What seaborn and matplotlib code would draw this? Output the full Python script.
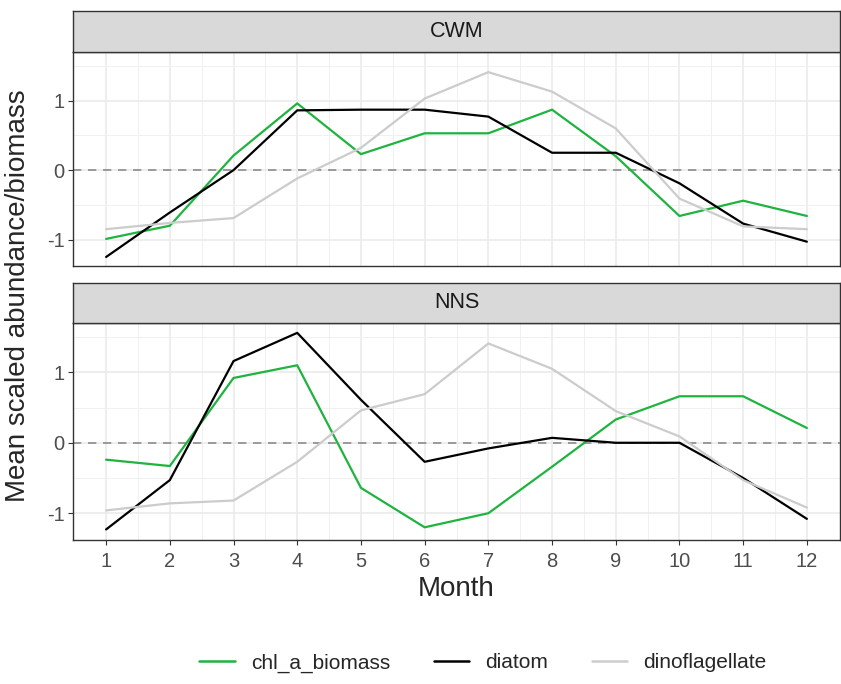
import numpy as np
import pandas as pd
import matplotlib
matplotlib.use("Agg")
import matplotlib.pyplot as plt
from matplotlib.lines import Line2D
import seaborn as sns

months = list(range(1, 13))
groups = ["chl_a_biomass", "diatom", "dinoflagellate"]
panels = ["CWM", "NNS"]

cwm_chl = [-0.99, -0.80, 0.21, 0.96, 0.23, 0.53, 0.53, 0.87, 0.20, -0.66, -0.44, -0.66]
cwm_diatom = [-1.25, -0.61, 0.00, 0.86, 0.87, 0.87, 0.77, 0.25, 0.25, -0.19, -0.77, -1.03]
cwm_dino = [-0.85, -0.76, -0.69, -0.12, 0.32, 1.03, 1.41, 1.13, 0.60, -0.41, -0.81, -0.85]

nns_chl = [-0.24, -0.33, 0.92, 1.10, -0.64, -1.20, -1.00, -0.34, 0.33, 0.66, 0.66, 0.21]
nns_diatom = [-1.23, -0.53, 1.16, 1.56, 0.61, -0.27, -0.08, 0.07, 0.00, 0.00, -0.50, -1.08]
nns_dino = [-0.96, -0.86, -0.82, -0.27, 0.46, 0.69, 1.41, 1.05, 0.45, 0.09, -0.53, -0.92]

series = {
    "CWM": {"chl_a_biomass": cwm_chl, "diatom": cwm_diatom, "dinoflagellate": cwm_dino},
    "NNS": {"chl_a_biomass": nns_chl, "diatom": nns_diatom, "dinoflagellate": nns_dino},
}

rows = []
for p in panels:
    for g in groups:
        for m, v in zip(months, series[p][g]):
            rows.append({"panel": p, "group": g, "Month": m, "value": v})
df = pd.DataFrame(rows)

palette = {"chl_a_biomass": "#1fb33f", "diatom": "#000000", "dinoflagellate": "#cccccc"}

sns.set_style("white")
plt.rcParams["font.family"] = ["Liberation Sans", "DejaVu Sans"]

W, H = 841, 684
fig = plt.figure(figsize=(W / 100, H / 100), dpi=100)

def fr(x0, y0, x1, y1):
    return [x0 / W, 1 - y1 / H, (x1 - x0) / W, (y1 - y0) / H]

panel_px = {"CWM": (73, 52, 840, 266), "NNS": (73, 323, 840, 540)}
strip_px = {"CWM": (73, 11, 840, 52), "NNS": (73, 283, 840, 323)}

ylim = (-1.38, 1.70)
xlim = (0.48, 12.52)
border = "#333333"
tick_fs = 14.5

for i, p in enumerate(panels):
    ax = fig.add_axes(fr(*panel_px[p]))
    ax.set_facecolor("white")
    ax.set_xlim(*xlim)
    ax.set_ylim(*ylim)
    ax.set_xticks(months)
    ax.set_xticks(np.arange(1.5, 12, 1.0), minor=True)
    ax.set_yticks([-1, 0, 1])
    ax.set_yticks([-0.5, 0.5, 1.5], minor=True)
    ax.grid(True, which="major", color="#ebebeb", linewidth=1.2)
    ax.grid(True, which="minor", color="#f0f0f0", linewidth=0.7)
    ax.set_axisbelow(True)
    ax.axhline(0, color="#8c8c8c", linestyle=(0, (5, 4)), linewidth=1.2, zorder=1.5)
    sns.lineplot(data=df[df["panel"] == p], x="Month", y="value", hue="group",
                 hue_order=groups, palette=palette, linewidth=1.6, ax=ax,
                 legend=False, zorder=3)
    for s in ax.spines.values():
        s.set_color(border)
        s.set_linewidth(1.0)
    ax.tick_params(axis="y", which="major", length=3.6, color=border, labelsize=tick_fs,
                   labelcolor="#4d4d4d", left=True, pad=2.5)
    ax.tick_params(axis="x", which="major", length=3.6, color=border, labelsize=tick_fs,
                   labelcolor="#4d4d4d", bottom=True, pad=5)
    ax.tick_params(which="minor", length=0)
    ax.set_ylabel("")
    ax.set_xlabel("")
    ax.set_yticklabels(["-1", "0", "1"])
    if i == 0:
        ax.set_xticklabels([])
        ax.tick_params(axis="x", which="major", length=0)
    else:
        ax.set_xlabel("Month", fontsize=20, labelpad=4)

    sax = fig.add_axes(fr(*strip_px[p]))
    sax.set_facecolor("#d9d9d9")
    sax.set_xticks([])
    sax.set_yticks([])
    for s in sax.spines.values():
        s.set_color(border)
        s.set_linewidth(1.0)
    sax.text(0.5, 0.5, p, transform=sax.transAxes, ha="center", va="center",
             fontsize=15.5, color="#1a1a1a")

fig.text(18 / W, 1 - 296 / H, "Mean scaled abundance/biomass", rotation=90,
         ha="center", va="center", fontsize=20)

handles = [Line2D([0], [0], color=palette[g], linewidth=1.8) for g in groups]
fig.legend(handles, groups, loc="center", bbox_to_anchor=(483 / W, 1 - 663 / H),
           ncol=3, frameon=False, fontsize=15, handlelength=1.7,
           columnspacing=2.1, handletextpad=0.77)

fig.savefig("out.png", dpi=100, facecolor="white")
